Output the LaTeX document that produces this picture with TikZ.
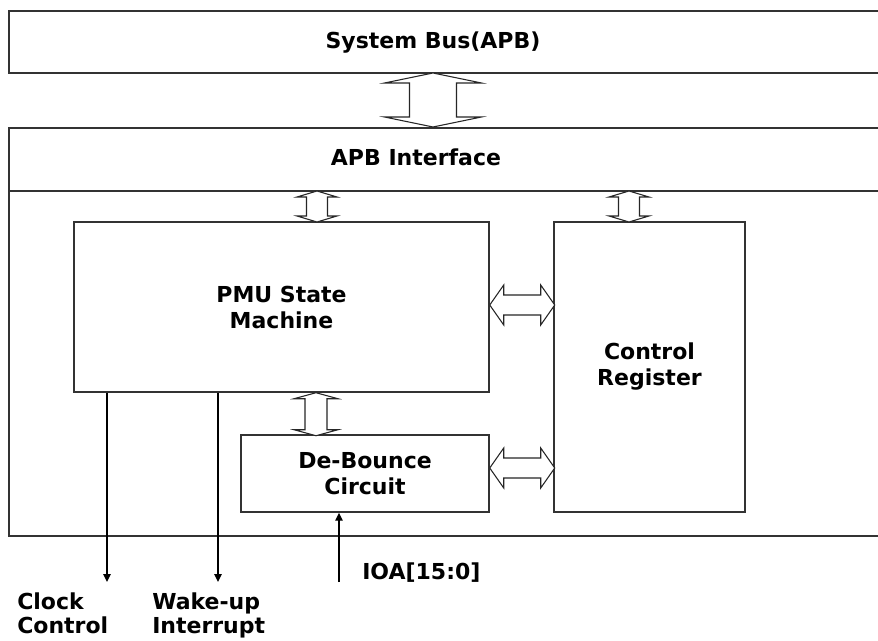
\documentclass[tikz,border=0pt]{standalone}
\usepackage{fontspec}
\setmainfont{DejaVu Sans}
\usetikzlibrary{arrows.meta,calc}

\tikzset{
  frame/.style={draw=black!80, line width=1.1pt},
  block/.style={frame, align=center, font=\bfseries\fontsize{16.5}{19.5}\selectfont},
  title/.style={font=\bfseries\fontsize{16.5}{19.5}\selectfont},
  fat/.style={draw=black!85, line width=0.8pt, fill=white},
  sig/.style={line width=1.1pt, -{Triangle[length=6pt,width=5.5pt]}},
  lbl/.style={font=\bfseries\fontsize{16.5}{18}\selectfont, align=left, inner sep=0pt}
}

% vertical block arrow: top tip, length, half shaft, half head, head length
\newcommand{\fatV}[5]{%
  \draw[fat] (#1) -- ++(#4,#5) -- ++(#3-#4,0) -- ++(0,#2-2*#5) -- ++(#4-#3,0)
    -- ++(-#4,#5) -- ++(-#4,-#5) -- ++(#4-#3,0) -- ++(0,-#2+2*#5) -- ++(#3-#4,0) -- cycle;}
% horizontal block arrow: left tip, length, half shaft, half head, head length
\newcommand{\fatH}[5]{%
  \draw[fat] (#1) -- ++(#5,-#4) -- ++(0,#4-#3) -- ++(#2-2*#5,0) -- ++(0,#3-#4)
    -- ++(#5,#4) -- ++(-#5,#4) -- ++(0,#3-#4) -- ++(-#2+2*#5,0) -- ++(0,#4-#3) -- cycle;}

\begin{document}
\begin{tikzpicture}[x=0.75pt,y=-0.75pt]
  \useasboundingbox (0,0) rectangle (878,641);
  \clip (0,0) rectangle (878,641);

  % bus and interface frames (open to the right)
  \draw[frame] (9,11) rectangle (890,73);
  \draw[frame] (9,128) rectangle (890,536);
  \draw[frame] (9,191) -- (890,191);
  \node[title] (bus) at (433,43) {System Bus(APB)};
  \node[title] (apb) at (416,157) {APB Interface};
  \coordinate (busS) at (433,73);
  \coordinate (apbS) at (433,191);

  % blocks
  \node[block, minimum width=415*0.75pt, minimum height=170*0.75pt] (pmu) at (281.5,307) {PMU State\\Machine};
  \node[block, minimum width=191*0.75pt, minimum height=290*0.75pt] (ctrl) at (649.5,367) {Control\\Register};
  \node[block, minimum width=248*0.75pt, minimum height=77*0.75pt] (deb) at (365,473.5) {De-Bounce\\Circuit};

  % block arrows
  \fatV{busS}{54}{23.5}{48.5}{10}
  \fatV{317,0 |- apbS}{31}{10.5}{20}{6}
  \fatV{629,0 |- apbS}{31}{10.5}{20}{6}
  \fatV{316,0 |- pmu.south}{43}{11}{22}{6}
  \fatH{pmu.east |- 0,305}{65}{10}{20}{14}
  \fatH{deb.east |- 0,468}{65}{10}{20}{14}

  % signals
  \coordinate (clk) at (107,582);
  \coordinate (wak) at (218,582);
  \coordinate (ioa) at (339,582);
  \draw[sig] (pmu.south -| clk) -- (clk);
  \draw[sig] (pmu.south -| wak) -- (wak);
  \draw[sig] (ioa) -- (deb.south -| ioa);
  \node[lbl, anchor=north west] (clkL) at (17,593) {Clock\\Control};
  \node[lbl, anchor=north west] (wakL) at (152,593) {Wake-up\\Interrupt};
  \node[lbl, anchor=west] (ioaL) at (362,573) {IOA[15:0]};
\end{tikzpicture}
\end{document}
